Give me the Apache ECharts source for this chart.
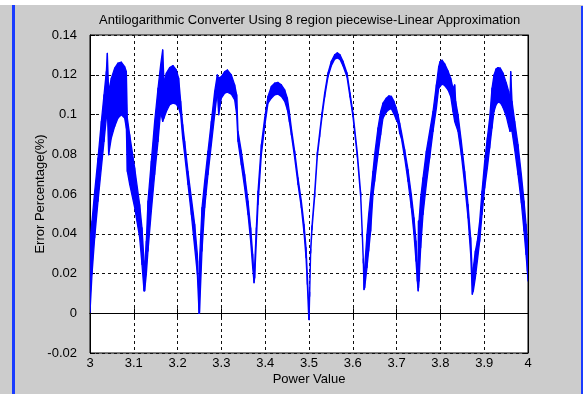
<!DOCTYPE html>
<html><head><meta charset="utf-8">
<script src="https://cdn.jsdelivr.net/npm/echarts@6/dist/echarts.min.js"></script>
<style>html,body{margin:0;padding:0;background:#fff}#c{width:583px;height:394px}</style>
</head><body><div id="c"></div>
<script>
// Power value (x) samples, with lower / upper envelope of the dense error trace
const powerValue = [
  3.0000,3.0046,3.0107,3.0183,3.0259,3.0320,3.0373,3.0396,3.0426,3.0487,3.0563,3.0639,3.0715,3.0791,3.0830,3.0852,3.0906,3.1020,3.1134,3.1187,3.1233,
  3.1248,3.1286,3.1324,3.1400,3.1476,3.1553,3.1613,3.1659,3.1689,3.1743,3.1819,3.1895,3.1971,3.2024,3.2070,3.2116,3.2161,3.2237,3.2314,3.2390,3.2451,3.2490,
  3.2500,3.2557,3.2618,3.2694,3.2770,3.2847,3.2907,3.2938,3.2999,3.3075,3.3136,3.3227,3.3303,3.3349,3.3379,3.3455,3.3531,3.3608,3.3668,3.3714,3.3745,
  3.3760,3.3798,3.3836,3.3912,3.3988,3.4064,3.4140,3.4216,3.4293,3.4369,3.4445,3.4506,3.4551,3.4597,3.4673,3.4749,3.4825,3.4886,3.4932,3.4962,3.4995,
  3.5002,3.5015,3.5038,3.5068,3.5129,3.5190,3.5243,3.5297,3.5358,3.5434,3.5510,3.5586,3.5647,3.5708,3.5776,3.5867,3.5936,3.6004,3.6103,3.6179,3.6217,3.6240,3.6256,
  3.6271,3.6324,3.6362,3.6408,3.6461,3.6499,3.6575,3.6636,3.6689,3.6765,3.6826,3.6880,3.6940,3.6994,3.7032,3.7070,3.7108,3.7184,3.7260,3.7336,3.7397,3.7443,3.7473,3.7492,
  3.7500,3.7512,3.7550,3.7603,3.7679,3.7755,3.7831,3.7908,3.7961,3.7991,3.8037,3.8098,3.8174,3.8235,3.8288,3.8326,3.8349,3.8402,3.8478,3.8554,3.8631,3.8691,3.8729,
  3.8752,3.8798,3.8844,3.8897,3.8950,3.9011,3.9072,3.9125,3.9178,3.9224,3.9270,3.9315,3.9369,3.9430,3.9506,3.9559,3.9589,3.9605,3.9635,3.9696,3.9772,3.9848,3.9909,3.9955,3.9985,4.0000
];
const errorLow = [
  0.0004,0.0196,0.0380,0.0564,0.0731,0.0865,0.0982,0.1032,0.0798,0.0882,0.0940,0.0982,0.0999,0.0982,0.0932,0.0714,0.0648,0.0531,0.0380,0.0246,0.0113,
  0.0113,0.0196,0.0313,0.0514,0.0698,0.0865,0.1015,0.0965,0.0982,0.1015,0.1049,0.1057,0.1052,0.1032,0.0999,0.0882,0.0798,0.0648,0.0497,0.0330,0.0196,-0.0001,
  0.0004,0.0313,0.0531,0.0698,0.0848,0.0999,0.1116,0.0999,0.1082,0.1107,0.1112,0.1102,0.1074,0.0999,0.0865,0.0748,0.0631,0.0497,0.0363,0.0230,0.0154,
  0.0179,0.0363,0.0547,0.0798,0.0940,0.1057,0.1082,0.1099,0.1102,0.1091,0.1066,0.1024,0.0965,0.0898,0.0781,0.0648,0.0531,0.0405,0.0280,0.0146,-0.0030,
  -0.0032,0.0086,0.0303,0.0420,0.0587,0.0788,0.0888,0.0989,0.1089,0.1189,0.1245,0.1278,0.1285,0.1277,0.1245,0.1189,0.1089,0.0989,0.0788,0.0587,0.0387,0.0253,0.0119,
  0.0129,0.0230,0.0313,0.0414,0.0597,0.0664,0.0798,0.0898,0.0982,0.1012,0.1025,0.1029,0.1002,0.0974,0.0957,0.0907,0.0882,0.0781,0.0664,0.0531,0.0397,0.0263,0.0163,0.0113,
  0.0129,0.0163,0.0330,0.0497,0.0648,0.0781,0.0915,0.1032,0.1132,0.1141,0.1153,0.1146,0.1124,0.1091,0.1015,0.0965,0.0949,0.0915,0.0798,0.0648,0.0480,0.0296,0.0096,
  0.0113,0.0179,0.0263,0.0363,0.0497,0.0631,0.0731,0.0832,0.0932,0.1015,0.1049,0.1062,0.1059,0.1035,0.0990,0.0940,0.0915,0.0932,0.0915,0.0823,0.0698,0.0556,0.0414,0.0296,0.0213,0.0163
];
const errorHigh = [
  0.0363,0.0464,0.0614,0.0781,0.0965,0.1099,0.1216,0.1308,0.1116,0.1183,0.1233,0.1258,0.1263,0.1241,0.1216,0.0982,0.0898,0.0731,0.0547,0.0430,0.0263,
  0.0230,0.0363,0.0564,0.0765,0.0965,0.1132,0.1250,0.1325,0.1166,0.1208,0.1236,0.1246,0.1224,0.1183,0.1066,0.0949,0.0865,0.0714,0.0581,0.0447,0.0296,0.0062,
  0.0263,0.0531,0.0664,0.0815,0.0965,0.1116,0.1199,0.1183,0.1191,0.1216,0.1224,0.1199,0.1149,0.1099,0.0915,0.0815,0.0698,0.0564,0.0430,0.0297,0.0179,
  0.0246,0.0430,0.0614,0.0848,0.0982,0.1091,0.1141,0.1158,0.1161,0.1149,0.1124,0.1082,0.1015,0.0932,0.0815,0.0681,0.0564,0.0447,0.0330,0.0196,0.0029,
  -0.0010,0.0106,0.0323,0.0440,0.0607,0.0808,0.0908,0.1009,0.1109,0.1209,0.1268,0.1301,0.1310,0.1300,0.1268,0.1209,0.1109,0.1009,0.0808,0.0607,0.0407,0.0273,0.0139,
  0.0230,0.0397,0.0497,0.0597,0.0714,0.0798,0.0932,0.1015,0.1057,0.1082,0.1094,0.1091,0.1066,0.1032,0.0999,0.0957,0.0915,0.0823,0.0723,0.0597,0.0480,0.0363,0.0246,0.0146,
  0.0464,0.0464,0.0581,0.0681,0.0815,0.0915,0.1015,0.1149,0.1241,0.1266,0.1273,0.1255,0.1219,0.1183,0.1132,0.1149,0.1066,0.0999,0.0865,0.0714,0.0547,0.0380,0.0196,
  0.0230,0.0313,0.0363,0.0464,0.0614,0.0765,0.0882,0.0982,0.1132,0.1199,0.1229,0.1236,0.1233,0.1208,0.1158,0.1116,0.1082,0.1216,0.1066,0.0965,0.0848,0.0698,0.0564,0.0447,0.0363,0.0330
];
const xRange = [3, 4, 0.1];
const yRange = [-0.02, 0.14, 0.02];
const titleText = 'Antilogarithmic Converter Using 8 region piecewise-Linear Approximation';
const xName = 'Power Value';
const yName = 'Error Percentage(%)';

const BLUE = '#0000ff';
const FONT = "'Liberation Sans', Arial, sans-serif";
const FS = 13;
const chart = echarts.init(document.getElementById('c'), null, {renderer: 'canvas'});
const gridLine = {show: true, lineStyle: {color: '#111', width: 1, type: [3, 3]}};
const tick = {show: true, inside: true, length: 5, lineStyle: {color: '#000'}};
const axisLine = {show: true, lineStyle: {color: '#000', width: 1}};
const bandData = powerValue.map((x, i) => [x, errorLow[i], errorHigh[i]]);

chart.setOption({
  animation: false,
  backgroundColor: '#cccccc',
  textStyle: {fontFamily: FONT},
  title: {
    text: titleText, left: 99, top: 14, padding: 0,
    textStyle: {fontSize: FS, fontWeight: 'normal', color: '#000', fontFamily: FONT}
  },
  graphic: [
    {type: 'rect', silent: true, shape: {x: 0, y: 0, width: 583, height: 5}, style: {fill: '#ffffff'}},
    {type: 'rect', silent: true, shape: {x: 12, y: 5, width: 3, height: 389}, style: {fill: '#1a3cff'}},
    {type: 'rect', silent: true, shape: {x: 581, y: 6, width: 2, height: 388}, style: {fill: '#1a3cff'}}
  ],
  grid: {left: 90, right: 55, top: 35, bottom: 41, show: true, backgroundColor: '#ffffff', borderColor: '#000', borderWidth: 1},
  xAxis: [
    {type: 'value', min: xRange[0], max: xRange[1], interval: xRange[2], position: 'bottom',
     name: xName, nameLocation: 'middle', nameGap: 20, nameMoveOverlap: false,
     nameTextStyle: {fontSize: FS, color: '#000', fontFamily: FONT},
     axisLine: axisLine, axisTick: tick, splitLine: gridLine,
     axisLabel: {fontSize: FS, color: '#000', margin: 4, fontFamily: FONT}},
    {type: 'value', min: xRange[0], max: xRange[1], interval: xRange[2], position: 'top',
     axisLine: axisLine, axisTick: tick, splitLine: {show: false}, axisLabel: {show: false}}
  ],
  yAxis: [
    {type: 'value', min: yRange[0], max: yRange[1], interval: yRange[2], position: 'left',
     name: yName, nameLocation: 'middle', nameGap: 43, nameMoveOverlap: false,
     nameTextStyle: {fontSize: FS, color: '#000', fontFamily: FONT},
     axisLine: axisLine, axisTick: tick, splitLine: gridLine,
     axisLabel: {fontSize: FS, color: '#000', margin: 13, fontFamily: FONT}},
    {type: 'value', min: yRange[0], max: yRange[1], interval: yRange[2], position: 'right',
     axisLine: axisLine, axisTick: tick, splitLine: {show: false}, axisLabel: {show: false}}
  ],
  series: [
    {type: 'custom', name: 'error', z: 3, clip: true,
     encode: {x: 0, y: [1, 2]},
     data: bandData,
     renderItem: function (params, api) {
       const i = params.dataIndex;
       if (i >= bandData.length - 1) return null;
       const x0 = api.value(0), l0 = api.value(1), h0 = api.value(2);
       const n = bandData[i + 1];
       const pts = [api.coord([x0, l0]), api.coord([n[0], n[1]]), api.coord([n[0], n[2]]), api.coord([x0, h0])];
       return {type: 'polygon', shape: {points: pts},
               style: {fill: BLUE, stroke: BLUE, lineWidth: 1.3, lineJoin: 'round'}};
     }}
  ]
});
</script>
</body></html>
